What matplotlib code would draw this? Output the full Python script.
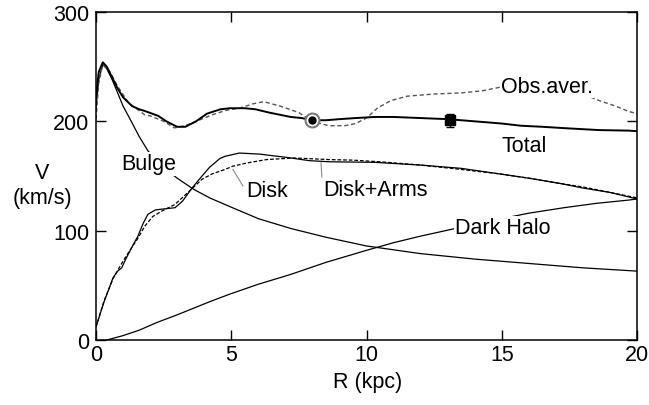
import matplotlib
matplotlib.use("Agg")
import matplotlib.pyplot as plt

plt.rcParams['font.family'] = ['Liberation Sans', 'DejaVu Sans']

# rotation curve components (R in kpc, V in km/s)
total_r = [0.0, 0.1, 0.25, 0.4, 0.6, 0.8, 1.0, 1.33, 1.6, 1.8, 2.3, 2.6, 3.0, 3.3, 3.7,
           4.1, 4.6, 4.95, 5.5, 5.9, 6.4, 6.8, 7.2, 7.6, 8.0, 8.5, 9.0, 9.6, 10.3, 11.0,
           12.0, 13.0, 14.0, 15.0, 15.7, 16.5, 17.5, 18.6, 19.7, 20.0]
total_v = [222, 245, 254, 250, 240, 230, 222, 214, 211, 209.5, 205, 200, 195, 195, 200,
           207, 211, 212, 212, 211, 208, 206, 204, 203, 201, 201, 202, 203, 204, 204,
           203, 202, 200, 198, 196, 195, 193.5, 192, 191.5, 191]

obs_r = [0.0, 0.1, 0.25, 0.5, 0.8, 1.2, 1.8, 2.0, 2.5, 2.9, 3.3, 3.8, 4.3, 4.8, 5.3,
         5.8, 6.2, 6.8, 7.5, 8.0, 8.6, 9.2, 9.6, 10.0, 10.4, 10.9, 11.5, 12.5, 13.5,
         14.3, 14.9, 16.0, 17.0, 17.9, 18.6, 19.2, 19.7, 20.0]
obs_v = [202, 235, 252, 246, 232, 217, 206, 205, 200, 194, 196, 201, 206, 210, 212,
         216, 218, 214, 208, 200, 196, 196, 198, 203, 212, 219, 223, 225, 226,
         228, 231, 234, 232, 226, 219, 214, 209, 207]

bulge_r = [0.0, 0.1, 0.25, 0.4, 0.6, 0.8, 1.0, 1.26, 1.6, 1.92, 2.3, 2.7, 3.0, 3.6, 4.2,
           4.95, 6.0, 7.2, 8.5, 10.0, 12.0, 14.0, 16.0, 18.0, 20.0]
bulge_v = [212, 238, 252, 248, 238, 226, 214, 202, 186, 173, 163, 154, 148, 138, 130,
           122, 111, 102, 94, 86, 79, 74, 70, 66, 63]

disk_r = [0.0, 0.3, 0.63, 0.8, 0.95, 1.1, 1.35, 1.55, 1.75, 1.92, 2.2, 2.55, 2.92, 3.2,
          3.55, 3.92, 4.2, 4.58, 4.77, 5.3, 6.06, 7.05, 7.9, 8.65, 10.3, 12.0, 13.5,
          14.9, 16.0, 17.2, 18.0, 19.0, 20.0]
disk_v = [12, 35, 57, 63, 66, 74, 86, 95, 107, 115, 119, 120, 121, 127,
          139, 150, 158, 166, 168, 171, 170, 167, 164, 163, 162.5, 160, 157,
          152, 148, 143, 139, 135, 129]

arms_r = [0.0, 0.3, 0.63, 0.9, 1.2, 1.55, 1.8, 2.1, 2.44, 2.92, 3.4, 3.92, 4.3, 4.77,
          5.06, 5.6, 6.3, 7.3, 8.65, 9.5, 10.5, 12.0, 13.5, 14.9, 16.0, 17.2, 18.0,
          19.0, 20.0]
arms_v = [12, 36, 56, 68, 80, 93, 104, 113, 118, 124, 135, 147, 152, 156,
          159, 162, 165, 166.5, 165, 164.5, 163, 160, 156, 152, 148, 143, 140,
          135, 130]

halo_r = [0.4, 1.0, 1.6, 2.25, 3.0, 3.5, 4.2, 4.95, 6.0, 7.2, 8.5, 10.0, 11.0, 12.0,
          13.1, 14.0, 15.0, 16.0, 17.3, 18.5, 19.7, 20.0]
halo_v = [0, 4, 9, 16, 23, 28, 35, 42, 51, 60, 71, 82, 89, 95,
          101, 106, 111, 116, 121, 125, 128, 129]

# observed points
sun_r, sun_v = 8.0, 201
far_r, far_v, far_err = 13.1, 201, 6

fig = plt.figure(figsize=(6.49, 4.06), dpi=100)
ax = fig.add_axes([96 / 649, 1 - 341 / 406, 541 / 649, 328 / 406])

thin = 0.9
ax.plot(halo_r, halo_v, color='black', lw=thin, zorder=2)
ax.plot(bulge_r, bulge_v, color='black', lw=thin, zorder=2)
ax.plot(disk_r, disk_v, color='black', lw=thin, zorder=2)
ax.plot(arms_r, arms_v, color='black', lw=thin, ls=(0, (3, 1.5)), zorder=2)
ax.plot(obs_r, obs_v, color='#555555', lw=1.0, ls=(0, (3, 2)), zorder=2)
ax.plot(total_r, total_v, color='black', lw=1.4, zorder=3)

ax.plot(sun_r, sun_v, 'o', ms=10, mfc='white', mec='#777777', mew=1.5, zorder=4)
ax.plot(sun_r, sun_v, 'o', ms=5, color='black', zorder=5)
ax.errorbar(far_r, far_v, yerr=far_err, fmt='s', ms=7, color='black',
            capsize=3, elinewidth=1, zorder=5)

# leader lines
ax.plot([8.32, 8.35], [162, 149], color='#888888', lw=0.8)
ax.plot([5.06, 5.43], [156, 141], color='#888888', lw=0.8)

box = dict(facecolor='white', edgecolor='none', pad=1)
fs = 15.5
ax.text(14.97, 232, 'Obs.aver.', fontsize=fs, ha='left', va='center', bbox=box, zorder=6)
ax.text(14.99, 178, 'Total', fontsize=fs, ha='left', va='center', zorder=6)
ax.text(8.4, 138, 'Disk+Arms', fontsize=fs, ha='left', va='center', zorder=6)
ax.text(5.55, 137, 'Disk', fontsize=fs, ha='left', va='center', zorder=6)
ax.text(0.92, 161, 'Bulge', fontsize=fs, ha='left', va='center', bbox=box, zorder=6)
ax.text(13.27, 103, 'Dark Halo', fontsize=fs, ha='left', va='center', bbox=box, zorder=6)

ax.set_xlim(0, 20)
ax.set_ylim(0, 300)
ax.set_xticks([0, 5, 10, 15, 20])
ax.set_yticks([0, 100, 200, 300])
ax.tick_params(direction='in', length=7, width=1, labelsize=fs,
               top=True, right=True)
ax.tick_params(axis='x', pad=3)
ax.tick_params(axis='y', pad=5)
for s in ax.spines.values():
    s.set_linewidth(1.1)

fig.text(42 / 649, 1 - 186 / 406, 'V\n(km/s)', fontsize=fs, ha='center', va='center')
fig.text(368 / 649, 1 - 383 / 406, 'R (kpc)', fontsize=fs, ha='center', va='center')

fig.savefig('out.png', dpi=100)
